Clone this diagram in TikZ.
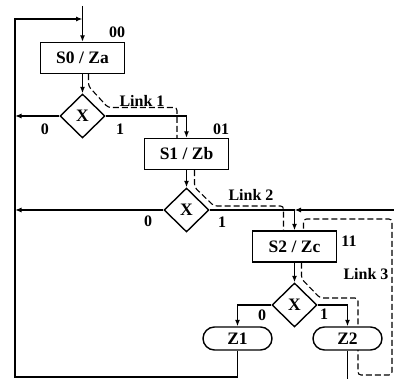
\documentclass[tikz,border=0pt]{standalone}
\usepackage{fontspec}
\setmainfont{Liberation Serif}
\usetikzlibrary{shapes.geometric,shapes.misc,arrows.meta,backgrounds}
\begin{document}
\begin{tikzpicture}[x=1pt,y=-1pt,
  every node/.style={font=\bfseries\fontsize{16}{16}\selectfont},
  big/.style={font=\bfseries\fontsize{17.5}{17.5}\selectfont},
  box/.style={big, draw, line width=1.4pt, minimum width=84pt, minimum height=31pt, inner sep=0pt, fill=white},
  dia/.style={big, draw, diamond, line width=1.4pt, minimum width=45pt, minimum height=44pt, inner sep=0pt, fill=white},
  term/.style={big, draw, rounded rectangle, line width=1.4pt, minimum width=69pt, minimum height=23pt, inner sep=0pt, fill=white},
  flow/.style={line width=1.2pt},
  arr/.style={flow, -{Latex[length=6.5pt,width=5pt]}},
  link/.style={line width=1.1pt, dash pattern=on 6pt off 3pt, rounded corners=3pt},
  lbl/.style={inner sep=0pt}
]
\useasboundingbox (0,0) rectangle (394,379);
% state boxes, decisions, outputs
\node[box] (s0) at (82.5,58) {S0 / Za};
\node[box] (s1) at (186.5,154) {S1 / Zb};
\node[box] (s2) at (294.5,246.5) {S2 / Zc};
\node[dia] (d1) at (82.5,116) {X};
\node[dia] (d2) at (186.5,210) {X};
\node[dia] (d3) at (294.5,305) {X};
\node[term] (z1) at (237.5,338.5) {Z1};
\node[term] (z2) at (347.5,338.5) {Z2};
% free ends and junctions
\coordinate (top) at (82.5,6);
\coordinate (j0) at (82.5,19);
\coordinate (j2) at (294.5,210);
\coordinate (redge) at (394,210);
\coordinate (lbot) at (15,377);
\coordinate (ltop) at (15,19);
\coordinate (z2end) at (347.5,379);
% dashed links (behind the nodes)
\begin{pgfonlayer}{background}
\draw[link] ([xshift=6pt]s0.south) -- ++(0,12) -- (108,107.5) -| ([xshift=-9.5pt]s1.north);
\draw[link] ([xshift=8pt]s1.south) -- ++(0,17) -- (214,206) -| ([xshift=-11pt]s2.north);
\draw[link] ([xshift=7pt]s2.south) -- ++(0,16) -- (320,298) -| (358,375) -| (392,219) -| ([xshift=9pt]s2.north);
\end{pgfonlayer}
% solid connectors
\draw[arr] (top) -- (s0.north);
\draw[arr] (z1.south) |- (lbot) -- (ltop) -- (j0);
\draw[arr] (s0.south) -- (d1.north);
\draw[arr] (s1.south) -- (d2.north);
\draw[arr] (s2.south) -- (d3.north);
\draw[arr] (d1.west) -- (15,116);
\draw[arr] (d2.west) -- (15,210);
\draw[arr] (d1.east) -| (s1.north);
\draw[flow] (d2.east) -- (j2);
\draw[arr] (redge) -- (j2);
\draw[arr] (j2) -- (s2.north);
\draw[arr] (d3.west) -| (z1.north);
\draw[arr] (d3.east) -| (z2.north);
\draw[flow] (z2.south) -- (z2end);
% labels
\node[lbl, anchor=south east] at ([yshift=4pt]s0.north east) {00};
\node[lbl, anchor=south east] at ([yshift=3pt]s1.north east) {01};
\node[lbl, anchor=north west] at ([xshift=4pt,yshift=-5pt]s2.north east) {11};
\node[lbl] at (45,129) {0};
\node[lbl] at (120,129) {1};
\node[lbl] at (148,221) {0};
\node[lbl] at (222,222) {1};
\node[lbl] at (262,315) {0};
\node[lbl] at (324,314) {1};
\node[lbl] at (142,101) {Link 1};
\node[lbl] at (251,195) {Link 2};
\node[lbl] at (366,274) {Link 3};
\end{tikzpicture}
\end{document}
